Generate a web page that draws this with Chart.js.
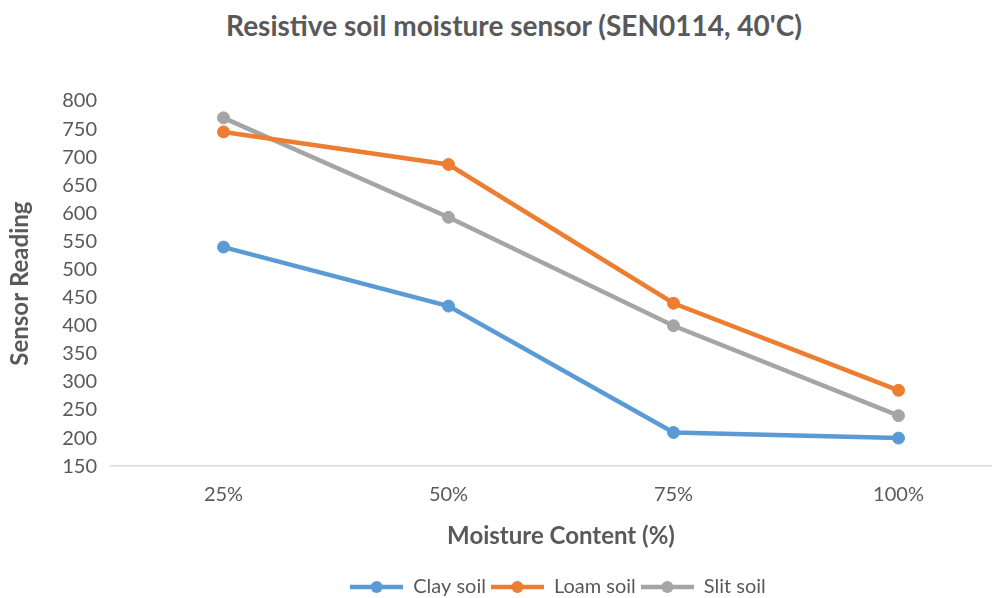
<!DOCTYPE html>
<html>
  <head>
    <meta charset="UTF-8">
    <title>Resistive soil moisture sensor</title>
    <style>
      html, body { margin: 0; padding: 0; background: #fff; overflow: hidden; }
      #heading {
        position: absolute; left: 0; top: 8px; width: 1028px;
        text-align: center; font: bold 28px Lato, sans-serif; line-height: 34px;
        color: #595959;
      }
      #box { position: absolute; left: 0; top: 0; width: 1116px; height: 607px; }
    </style>
  </head>
  <body>
    <div id="heading">Resistive soil moisture sensor (SEN0114, 40'C)</div>
    <div id="box"><canvas id="lineChart"></canvas></div>
  </body>
  <script src="https://cdn.jsdelivr.net/npm/chart.js@4/dist/chart.umd.min.js"></script>
  <script>
    const moisture = ['25%', '50%', '75%', '100%'];
    const claySoil = [540, 435, 210, 200];
    const loamSoil = [745, 687, 440, 285];
    const slitSoil = [770, 593, 400, 240];
    const seriesNames = ['Clay soil', 'Loam soil', 'Slit soil'];
    const seriesColors = ['#5B9BD5', '#ED7D31', '#A5A5A5'];

    const textGrey = '#595959';
    Chart.defaults.font.family = 'Lato, sans-serif';
    Chart.defaults.color = textGrey;

    // little line-with-dot marker for the legend
    function legendMarker(color) {
      const c = document.createElement('canvas');
      c.width = 53; c.height = 14;
      const g = c.getContext('2d');
      g.strokeStyle = color;
      g.lineWidth = 4.5;
      g.beginPath(); g.moveTo(0, 7); g.lineTo(53, 7); g.stroke();
      g.fillStyle = color;
      g.beginPath(); g.arc(26.5, 7, 6, 0, Math.PI * 2); g.fill();
      return c;
    }
    const markers = seriesColors.map(legendMarker);

    function makeSeries(i, values) {
      return {
        label: seriesNames[i],
        data: values,
        borderColor: seriesColors[i],
        backgroundColor: seriesColors[i],
        pointBackgroundColor: seriesColors[i],
        pointBorderColor: seriesColors[i],
        borderWidth: 4.5,
        pointRadius: 6,
        pointBorderWidth: 1,
        tension: 0
      };
    }

    const ctx = document.getElementById('lineChart').getContext('2d');
    const lineChart = new Chart(ctx, {
      type: 'line',
      data: {
        labels: moisture,
        datasets: [
          makeSeries(0, claySoil),
          makeSeries(1, loamSoil),
          makeSeries(2, slitSoil)
        ]
      },
      options: {
        responsive: true,
        maintainAspectRatio: false,
        animation: false,
        layout: { padding: { top: 101, bottom: 0, left: 0, right: 0 } },
        plugins: {
          legend: {
            position: 'bottom',
            labels: {
              usePointStyle: true,
              pointStyleWidth: 53,
              padding: 5,
              font: { size: 20 },
              color: textGrey,
              generateLabels(chart) {
                return chart.data.datasets.map((ds, i) => ({
                  text: ds.label,
                  pointStyle: markers[i],
                  fillStyle: ds.borderColor,
                  strokeStyle: ds.borderColor,
                  lineWidth: 0,
                  fontColor: textGrey,
                  hidden: false,
                  datasetIndex: i
                }));
              }
            }
          },
          tooltip: { enabled: false }
        },
        scales: {
          x: {
            offset: true,
            grid: { display: false, drawTicks: false },
            border: { display: true, color: '#D9D9D9', width: 1.5 },
            ticks: { padding: 16, font: { size: 20 } },
            title: {
              display: true,
              text: 'Moisture Content (%)',
              font: { size: 24, weight: 'bold' },
              padding: { top: 0, bottom: 21 }
            }
          },
          y: {
            min: 150,
            max: 800,
            grid: { display: false, drawTicks: false },
            border: { display: false },
            ticks: { stepSize: 50, autoSkip: false, padding: 14, font: { size: 20 } },
            title: {
              display: true,
              text: 'Sensor Reading',
              font: { size: 24, weight: 'bold' },
              padding: { top: 6, bottom: 0 }
            },
            afterFit(scale) { scale.width = 111; }
          },
          // empty right-hand strip so the plot runs past the window edge
          yRight: {
            position: 'right',
            grid: { display: false },
            border: { display: false },
            ticks: { display: false },
            afterFit(scale) { scale.width = 105; }
          }
        }
      }
    });
  </script>
</html>
